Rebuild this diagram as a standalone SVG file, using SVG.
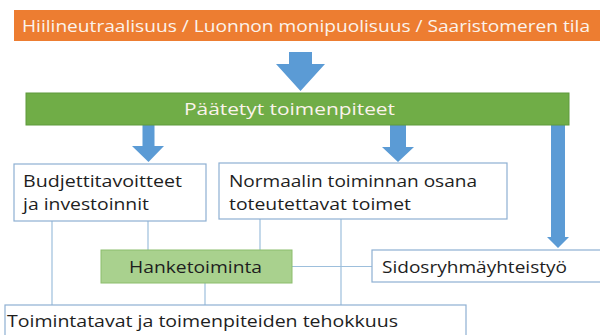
<svg xmlns="http://www.w3.org/2000/svg" width="600" height="335" viewBox="0 0 600 335">
<style>
text{font-family:"Open Sans","Noto Sans","Liberation Sans",sans-serif;font-size:16px;}
.light{fill:#fbf3ec;}
.dark{fill:#1e1e1e;}
.box{fill:#ffffff;stroke:#8eb0d2;stroke-width:1.2;}
.arrow{fill:#5b9bd5;}
.conn{stroke:#9dbfdc;stroke-width:1.2;fill:none;}
</style>
<rect width="600" height="335" fill="#ffffff"/>
<g id="connectors">
<line class="conn" x1="52" y1="221" x2="52" y2="305"/>
<line class="conn" x1="148" y1="221" x2="148" y2="250"/>
<line class="conn" x1="260" y1="219" x2="260" y2="250"/>
<line class="conn" x1="341" y1="219" x2="341" y2="305"/>
<line class="conn" x1="292" y1="266.5" x2="372" y2="266.5"/>
<line class="conn" x1="205" y1="283" x2="205" y2="305"/>
<polygon class="arrow" points="289,52 312,52 312,64 325,64 300.5,91 276,64 289,64"/>
<polygon class="arrow" points="142.5,125 154.5,125 154.5,146 164,146 148.5,162 132,146 142.5,146"/>
<polygon class="arrow" points="390,125 406,125 406,147 414,147 398,162 382,147 390,147"/>
<polygon class="arrow" points="551,125 565,125 565,237 569,237 558,248 547,237 551,237"/>
</g>
<g id="goal">
<rect x="14" y="10" width="590" height="31" fill="#ed7d31"/>
<text class="light" x="22" y="31.5" textLength="568" lengthAdjust="spacingAndGlyphs">Hiilineutraalisuus / Luonnon monipuolisuus / Saaristomeren tila</text>
</g>
<g id="decided">
<rect x="26" y="93" width="543" height="32" fill="#70ad47" stroke="#5f9a3c" stroke-width="1"/>
<text class="light" x="184" y="115" textLength="211" lengthAdjust="spacingAndGlyphs">Päätetyt toimenpiteet</text>
</g>
<g id="budget">
<rect class="box" x="14" y="164" width="192" height="57"/>
<text class="dark" x="23" y="187" textLength="159" lengthAdjust="spacingAndGlyphs">Budjettitavoitteet</text>
<text class="dark" x="23" y="210" textLength="126" lengthAdjust="spacingAndGlyphs">ja investoinnit</text>
</g>
<g id="normal">
<rect class="box" x="219" y="163" width="288" height="56"/>
<text class="dark" x="229" y="187" textLength="248" lengthAdjust="spacingAndGlyphs">Normaalin toiminnan osana</text>
<text class="dark" x="229" y="209.5" textLength="182" lengthAdjust="spacingAndGlyphs">toteutettavat toimet</text>
</g>
<g id="project">
<rect x="101" y="250" width="191" height="33" fill="#a9d18e" stroke="#8cbd6c" stroke-width="1"/>
<text class="dark" x="129" y="272.5" textLength="133" lengthAdjust="spacingAndGlyphs">Hanketoiminta</text>
</g>
<g id="stakeholder">
<rect class="box" x="372" y="250" width="232" height="32"/>
<text class="dark" x="382" y="272.5" textLength="185" lengthAdjust="spacingAndGlyphs">Sidosryhmäyhteistyö</text>
</g>
<g id="efficiency">
<rect class="box" x="5" y="305" width="461" height="36"/>
<text class="dark" x="7" y="327" textLength="391" lengthAdjust="spacingAndGlyphs">Toimintatavat ja toimenpiteiden tehokkuus</text>
</g>
</svg>
